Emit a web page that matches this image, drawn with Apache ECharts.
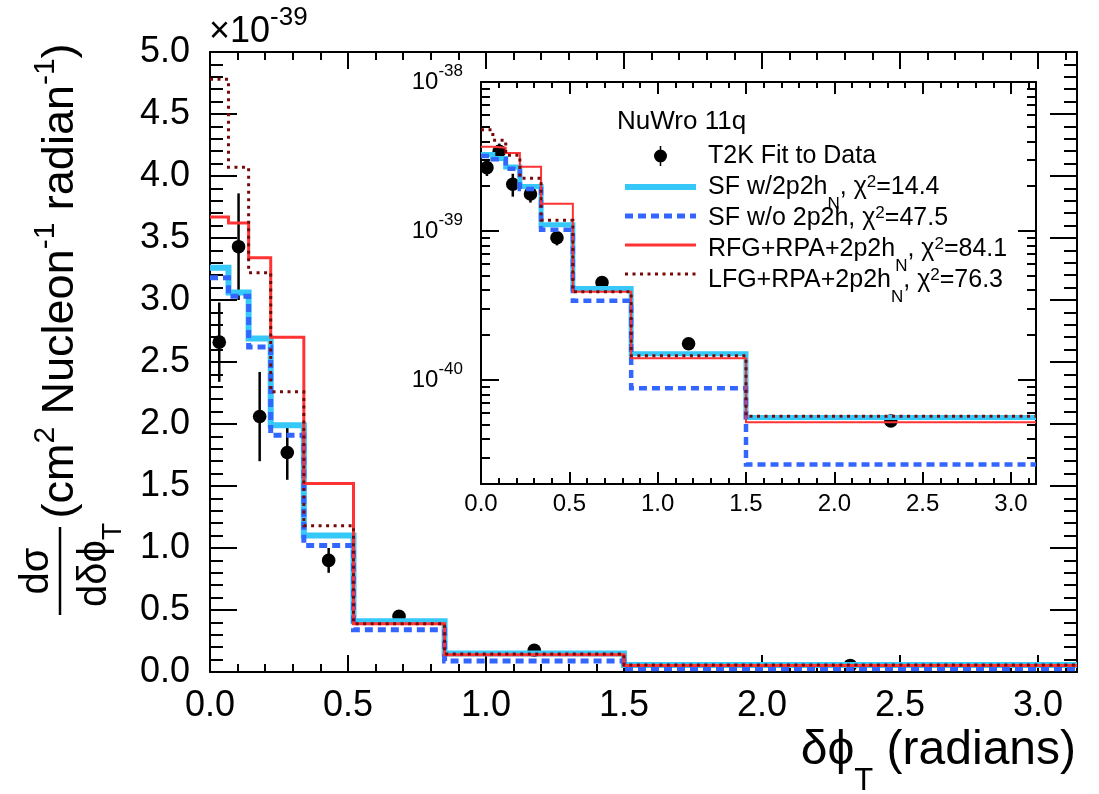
<!DOCTYPE html>
<html>
<head>
<meta charset="utf-8">
<script src="https://cdn.jsdelivr.net/npm/echarts@6/dist/echarts.min.js"></script>
<style>
  html, body { margin: 0; padding: 0; background: #fff; }
  #chart { width: 1099px; height: 794px; }
</style>
</head>
<body>
<div id="chart"></div>
<script>
// bin edges of delta phi_T (radians) and the T2K points at bin centres
const binEdges = [0, 0.067, 0.14, 0.22, 0.34, 0.52, 0.85, 1.5, 3.1416];
const dataX = [0.0335, 0.1035, 0.18, 0.28, 0.43, 0.685, 1.175, 2.32];
const dataY = [2.66, 3.43, 2.06, 1.77, 0.90, 0.45, 0.175, 0.053];
const dataErr = [0.32, 0.43, 0.36, 0.22, 0.10, 0.035, 0.012, 0.004];

// NuWro predictions, units of 1e-39 cm2/nucleon/radian
const sfWith2p2h = [3.26, 3.06, 2.69, 1.99, 1.10, 0.41, 0.15, 0.056];
const sfWithout2p2h = [3.18, 3.03, 2.62, 1.91, 1.02, 0.34, 0.088, 0.027];
const rfgRpa = [3.67, 3.62, 3.34, 2.70, 1.52, 0.39, 0.14, 0.052];
const lfgRpa = [4.78, 4.07, 3.22, 2.26, 1.18, 0.39, 0.145, 0.057];

const legendNames = ['T2K Fit to Data', 'SF w/2p2hN', 'SF w/o 2p2h', 'RFG+RPA+2p2hN', 'LFG+RPA+2p2hN'];
const legendText = [
  '{m|T2K Fit to Data}',
  '{m|SF w/2p2h}{sub|N}{m|, χ}{sup|2}{m|=14.4}',
  '{m|SF w/o 2p2h, χ}{sup|2}{m|=47.5}',
  '{m|RFG+RPA+2p2h}{sub|N}{m|, χ}{sup|2}{m|=84.1}',
  '{m|LFG+RPA+2p2h}{sub|N}{m|, χ}{sup|2}{m|=76.3}'
];

const F = '"Liberation Sans", Arial, Helvetica, sans-serif';
const BLACK = '#000';
const CYAN = '#35c8f8';
const BLUE = '#3366ff';
const RED = '#ff3333';
const DARKRED = '#780808';
const NOSYM = { color: 'rgba(0,0,0,0)', borderColor: 'rgba(0,0,0,0)', borderWidth: 0 };

function steps(vals) {
  const pts = vals.map((v, i) => [binEdges[i], v]);
  pts.push([binEdges[binEdges.length - 1], vals[vals.length - 1]]);
  return pts;
}

function fmtHalf(v) {
  return Math.abs(v * 2 - Math.round(v * 2)) < 1e-6 ? v.toFixed(1) : '';
}

function fmtPow(v) {
  const e = Math.log10(v);
  const r = Math.round(e);
  if (Math.abs(e - r) > 1e-6) return '';
  return '{b|10}{s|' + (r - 39) + '}';
}

function xAx(grid, pos, interval, len, major, label) {
  return {
    type: 'value', gridIndex: grid, position: pos, min: 0, max: 3.1416, interval: interval,
    axisLine: { show: major, onZero: false, lineStyle: { color: BLACK, width: 2 } },
    axisTick: { show: true, inside: true, length: len, lineStyle: { color: BLACK, width: 2 } },
    splitLine: { show: false },
    axisLabel: label || { show: false }
  };
}

function hist(name, vals, xi, yi, style) {
  return {
    name: name, type: 'line', step: 'end', xAxisIndex: xi, yAxisIndex: yi,
    data: steps(vals), symbol: 'none', silent: true,
    lineStyle: Object.assign({ cap: 'butt', join: 'miter' }, style)
  };
}

function points(name, xi, yi) {
  return {
    name: name, type: 'custom', xAxisIndex: xi, yAxisIndex: yi,
    data: dataX.map((x, i) => [x, dataY[i], dataErr[i]]),
    encode: { x: 0, y: 1 },
    itemStyle: { color: BLACK },
    renderItem: function (params, api) {
      const x = api.value(0), y = api.value(1), e = api.value(2);
      const c = api.coord([x, y]);
      const hi = api.coord([x, y + e]);
      const lo = api.coord([x, y - e]);
      return {
        type: 'group',
        children: [
          { type: 'line', shape: { x1: c[0], y1: hi[1], x2: c[0], y2: lo[1] }, style: { stroke: BLACK, lineWidth: 2.5 } },
          { type: 'circle', shape: { cx: c[0], cy: c[1], r: 6.8 }, style: { fill: BLACK } }
        ]
      };
    }
  };
}

const legendRich = {
  m: { fontSize: 25, fontFamily: F, fill: BLACK, lineHeight: 28 },
  sub: { fontSize: 17, fontFamily: F, fill: BLACK, lineHeight: 28, padding: [34, 0, 0, 0] },
  sup: { fontSize: 17, fontFamily: F, fill: BLACK, lineHeight: 28, padding: [0, 0, 10, 0] }
};

const chart = echarts.init(document.getElementById('chart'));

const option = {
  animation: false,
  backgroundColor: '#fff',
  grid: [
    { left: 210, right: 22, top: 52, bottom: 122, containLabel: false, outerBoundsMode: 'none' },
    { left: 481, right: 63, top: 82, bottom: 310, containLabel: false, outerBoundsMode: 'none' }
  ],
  xAxis: [
    xAx(0, 'bottom', 0.5, 17, true, { color: BLACK, fontSize: 36, fontFamily: F, margin: 16, formatter: fmtHalf }),
    xAx(0, 'bottom', 0.1, 8, false),
    xAx(0, 'top', 0.5, 17, true),
    xAx(0, 'top', 0.1, 8, false),
    xAx(1, 'bottom', 0.5, 12, true, { color: BLACK, fontSize: 24, fontFamily: F, margin: 8, formatter: fmtHalf }),
    xAx(1, 'bottom', 0.1, 6, false),
    xAx(1, 'top', 0.5, 12, true),
    xAx(1, 'top', 0.1, 6, false)
  ],
  yAxis: [0, 1].map(k => ({
    type: 'value', gridIndex: 0, position: k ? 'right' : 'left', min: 0, max: 5, interval: 0.5,
    axisLine: { show: true, onZero: false, lineStyle: { color: BLACK, width: 2 } },
    axisTick: { show: true, inside: true, length: 27, lineStyle: { color: BLACK, width: 2 } },
    minorTick: { show: true, splitNumber: 5, length: 13, lineStyle: { color: BLACK, width: 2 } },
    splitLine: { show: false },
    axisLabel: k ? { show: false } : { color: BLACK, fontSize: 36, fontFamily: F, margin: 20, formatter: v => v.toFixed(1) }
  })).concat([0, 1].map(k => ({
    type: 'log', logBase: 10, gridIndex: 1, position: k ? 'right' : 'left', min: 0.02, max: 10,
    axisLine: { show: true, onZero: false, lineStyle: { color: BLACK, width: 2 } },
    axisTick: { show: true, inside: true, length: 18, lineStyle: { color: BLACK, width: 2 } },
    minorTick: { show: true, splitNumber: 9, length: 9, lineStyle: { color: BLACK, width: 2 } },
    splitLine: { show: false },
    axisLabel: k ? { show: false } : {
      color: BLACK, margin: 18, formatter: fmtPow,
      rich: {
        b: { fontSize: 24, fontFamily: F, color: BLACK },
        s: { fontSize: 17, fontFamily: F, color: BLACK, padding: [0, 0, 22, 0] }
      }
    }
  }))),
  legend: {
    orient: 'vertical', left: 622, top: 146, padding: 0, itemWidth: 71, itemHeight: 20, itemGap: 11,
    selectedMode: false,
    formatter: () => '',
    data: [
      { name: legendNames[0], icon: 'path://M0,10L0,10ZM71,10L71,10ZM29,10A6.5,6.5 0 1,1 42,10A6.5,6.5 0 1,1 29,10ZM34.75,0L36.25,0L36.25,20L34.75,20Z' },
      { name: legendNames[1], itemStyle: NOSYM, lineStyle: { width: 6, color: CYAN, type: 'solid' } },
      { name: legendNames[2], itemStyle: NOSYM, lineStyle: { width: 5, color: BLUE, type: [8, 5] } },
      { name: legendNames[3], itemStyle: NOSYM, lineStyle: { width: 3, color: RED, type: 'solid' } },
      { name: legendNames[4], itemStyle: NOSYM, lineStyle: { width: 3, color: DARKRED, type: [3, 4.5] } }
    ]
  },
  graphic: [
    {
      type: 'text', x: 209, y: 32,
      style: {
        text: '{m|×10}{s|-39}', align: 'left', verticalAlign: 'middle',
        rich: {
          m: { fontSize: 36, fontFamily: F, fill: BLACK },
          s: { fontSize: 26, fontFamily: F, fill: BLACK, padding: [0, 0, 28, 0] }
        }
      }
    },
    {
      type: 'text', x: 61, y: 281, rotation: Math.PI / 2,
      style: {
        text: '{m|(cm}{s|2}{m| Nucleon}{s|-1}{m| radian}{s|-1}{m|)}', align: 'center', verticalAlign: 'middle',
        rich: {
          m: { fontSize: 45, fontFamily: F, fill: BLACK },
          s: { fontSize: 30, fontFamily: F, fill: BLACK, padding: [0, 0, 30, 0] }
        }
      }
    },
    {
      type: 'group', x: 60, y: 571, rotation: Math.PI / 2,
      children: [
        { type: 'line', shape: { x1: -44, y1: 0, x2: 44, y2: 0 }, style: { stroke: BLACK, lineWidth: 2.5 } },
        { type: 'text', x: 0, y: -3, style: { text: 'dσ', align: 'center', verticalAlign: 'bottom', fontSize: 40, fontFamily: F, fill: BLACK } },
        {
          type: 'text', x: 6, y: 3,
          style: {
            text: '{m|dδϕ}{t|T}', align: 'center', verticalAlign: 'top',
            rich: {
              m: { fontSize: 40, fontFamily: F, fill: BLACK },
              t: { fontSize: 28, fontFamily: F, fill: BLACK, padding: [36, 0, 0, 0] }
            }
          }
        }
      ]
    },
    {
      type: 'text', x: 1076, y: 751,
      style: {
        text: '{m|δϕ}{t|T}{m| (radians)}', align: 'right', verticalAlign: 'middle',
        rich: {
          m: { fontSize: 48, fontFamily: F, fill: BLACK, lineHeight: 54 },
          t: { fontSize: 31, fontFamily: F, fill: BLACK, lineHeight: 54, padding: [60, 0, 0, 0] }
        }
      }
    },
    {
      type: 'text', x: 617, y: 122,
      style: { text: 'NuWro 11q', align: 'left', verticalAlign: 'middle', fontSize: 26, fontFamily: F, fill: BLACK }
    }
  ].concat(legendText.map((t, i) => ({
    type: 'text', x: 708, y: 156 + 31 * i,
    style: { text: t, align: 'left', verticalAlign: 'middle', rich: legendRich }
  }))),
  series: [
    // main panel
    hist('main SF', sfWith2p2h, 0, 0, { color: CYAN, width: 6 }),
    hist('main SF no', sfWithout2p2h, 0, 0, { color: BLUE, width: 5, type: [8, 5] }),
    hist('main RFG', rfgRpa, 0, 0, { color: RED, width: 3 }),
    hist('main LFG', lfgRpa, 0, 0, { color: DARKRED, width: 3, type: [3, 4.5] }),
    points('main T2K', 0, 0),
    // inset, log scale
    hist(legendNames[1], sfWith2p2h, 4, 2, { color: CYAN, width: 5 }),
    hist(legendNames[2], sfWithout2p2h, 4, 2, { color: BLUE, width: 4.5, type: [8, 5] }),
    hist(legendNames[3], rfgRpa, 4, 2, { color: RED, width: 2 }),
    hist(legendNames[4], lfgRpa, 4, 2, { color: DARKRED, width: 3, type: [3, 4.5] }),
    points(legendNames[0], 4, 2)
  ]
};

chart.setOption(option);
</script>
</body>
</html>
